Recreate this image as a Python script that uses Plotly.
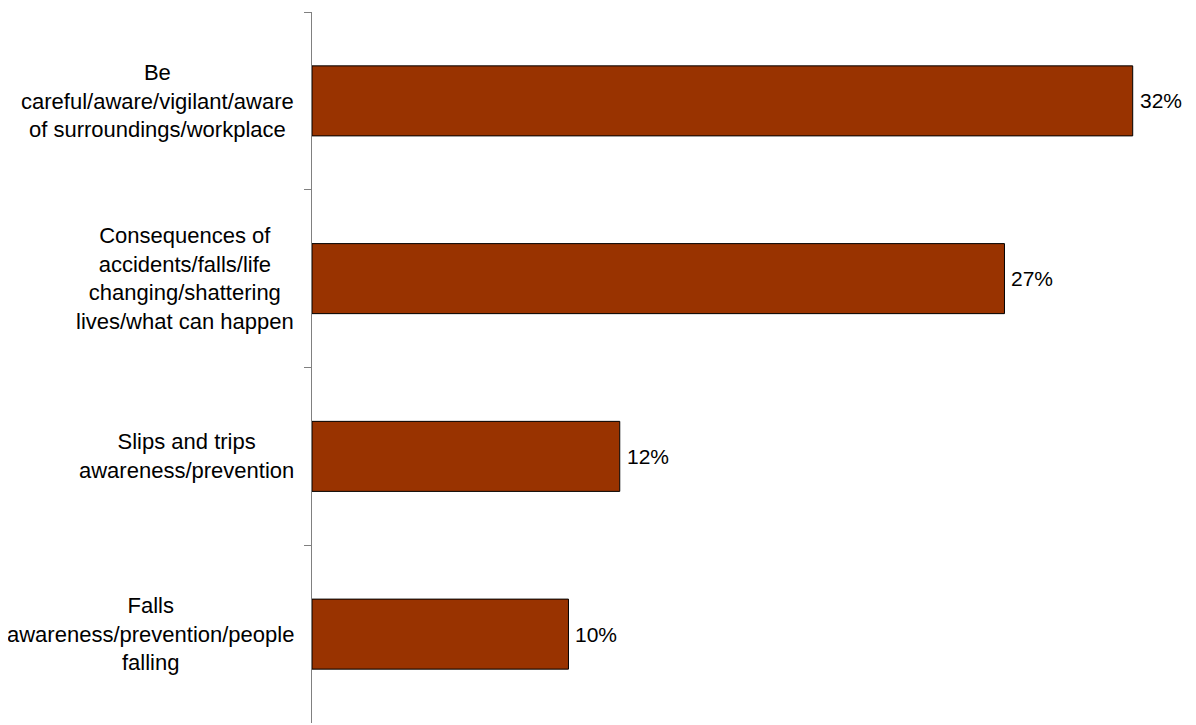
import plotly.graph_objects as go

categories = [
    "Be<br>careful/aware/vigilant/aware<br>of surroundings/workplace",
    "Consequences of<br>accidents/falls/life<br>changing/shattering<br>lives/what can happen",
    "Slips and trips<br>awareness/prevention",
    "Falls<br>awareness/prevention/people<br>falling",
]
values = [32, 27, 12, 10]
value_labels = ["32%", "27%", "12%", "10%"]

FONT = "Liberation Sans, Arial, sans-serif"

fig = go.Figure()
fig.add_trace(go.Bar(
    x=values,
    y=categories,
    orientation="h",
    marker=dict(color="#993300", line=dict(color="#000000", width=1)),
    width=0.394,
    hoverinfo="x+y",
))

for c in categories:
    fig.add_annotation(
        x=0, xref="paper", y=c, yref="y",
        text=c, showarrow=False,
        xanchor="right", yanchor="middle", align="center",
        xshift=-16,
        font=dict(family=FONT, size=22, color="#000000"),
    )

for c, v, lab in zip(categories, values, value_labels):
    fig.add_annotation(
        x=v, xref="x", y=c, yref="y",
        text=lab, showarrow=False,
        xanchor="left", yanchor="middle",
        xshift=5,
        font=dict(family=FONT, size=21, color="#000000"),
    )

fig.update_layout(
    width=1196, height=725,
    margin=dict(l=304, r=20, t=4, b=10),
    plot_bgcolor="white", paper_bgcolor="white",
    showlegend=False,
    xaxis=dict(range=[0, 34], visible=False, showgrid=False, zeroline=False),
    yaxis=dict(
        type="category",
        autorange="reversed",
        showticklabels=False,
        showline=True, linecolor="#808080", linewidth=1,
        ticks="outside", tickson="boundaries", ticklen=7, tickcolor="#808080",
        showgrid=False, zeroline=False,
    ),
)

fig.write_html("out.html")
